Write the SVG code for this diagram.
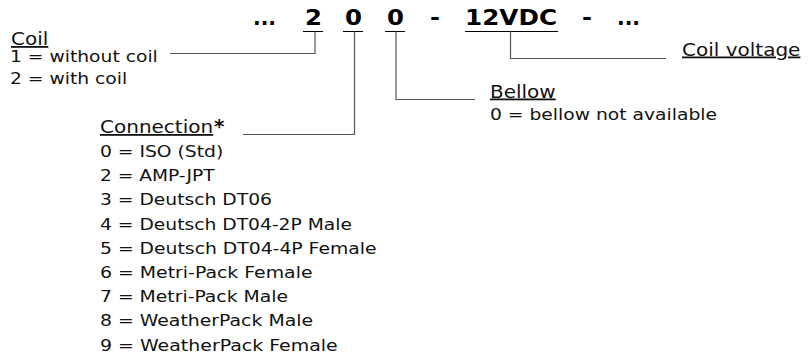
<svg xmlns="http://www.w3.org/2000/svg" width="810" height="358" viewBox="0 0 810 358">
<style>
.code{font-family:"DejaVu Sans",Verdana,sans-serif;font-weight:bold;font-size:21px;fill:#000}
.head{font-family:"DejaVu Sans",Verdana,sans-serif;font-size:18px;fill:#111;text-decoration:underline}
.item{font-family:"DejaVu Sans",Verdana,sans-serif;font-size:16.5px;fill:#111}
.star{font-family:"DejaVu Sans",Verdana,sans-serif;font-size:20px;font-weight:bold;fill:#111}
.ul{stroke:#000;stroke-width:1.2;fill:none}
.conn{stroke:#555;stroke-width:1.2;fill:none}
</style>
<rect width="810" height="358" fill="#fff"/>
<g id="code">
<text class="code" x="253" y="24.5" textLength="23" lengthAdjust="spacingAndGlyphs">...</text>
<text class="code" x="305" y="24.5" textLength="17" lengthAdjust="spacingAndGlyphs">2</text>
<text class="code" x="345" y="24.5" textLength="17" lengthAdjust="spacingAndGlyphs">0</text>
<text class="code" x="387" y="24.5" textLength="17" lengthAdjust="spacingAndGlyphs">0</text>
<text class="code" x="430" y="24.5" textLength="10" lengthAdjust="spacingAndGlyphs">-</text>
<text class="code" x="465" y="24.5" textLength="92" lengthAdjust="spacingAndGlyphs">12VDC</text>
<text class="code" x="582" y="24.5" textLength="10" lengthAdjust="spacingAndGlyphs">-</text>
<text class="code" x="617" y="24.5" textLength="23" lengthAdjust="spacingAndGlyphs">...</text>
<path class="ul" d="M303,31.5H323M343,31.5H363M385,31.5H405M465,31.5H558"/>
</g>
<g id="connectors">
<path class="conn" d="M315,31.5V53.5H170"/>
<path class="conn" d="M354.5,31.5V134.5H243"/>
<path class="conn" d="M396,31.5V99.5H475"/>
<path class="conn" d="M510.5,31.5V58.5H666"/>
</g>
<g id="coil">
<text class="head" x="11" y="45" textLength="37.3" lengthAdjust="spacingAndGlyphs">Coil</text>
<text class="item" x="10" y="62" textLength="147.8" lengthAdjust="spacingAndGlyphs">1 = without coil</text>
<text class="item" x="10" y="84" textLength="117.2" lengthAdjust="spacingAndGlyphs">2 = with coil</text>
</g>
<g id="connection">
<text class="head" x="100" y="133" textLength="113.2" lengthAdjust="spacingAndGlyphs">Connection</text>
<text class="star" x="214" y="133">*</text>
<text class="item" x="100" y="157" textLength="123.2" lengthAdjust="spacingAndGlyphs">0 = ISO (Std)</text>
<text class="item" x="100" y="181.2" textLength="114.6" lengthAdjust="spacingAndGlyphs">2 = AMP-JPT</text>
<text class="item" x="100" y="205.4" textLength="172" lengthAdjust="spacingAndGlyphs">3 = Deutsch DT06</text>
<text class="item" x="100" y="229.6" textLength="252" lengthAdjust="spacingAndGlyphs">4 = Deutsch DT04-2P Male</text>
<text class="item" x="100" y="253.8" textLength="276.5" lengthAdjust="spacingAndGlyphs">5 = Deutsch DT04-4P Female</text>
<text class="item" x="100" y="278" textLength="212.5" lengthAdjust="spacingAndGlyphs">6 = Metri-Pack Female</text>
<text class="item" x="100" y="302.2" textLength="188" lengthAdjust="spacingAndGlyphs">7 = Metri-Pack Male</text>
<text class="item" x="100" y="326.4" textLength="213" lengthAdjust="spacingAndGlyphs">8 = WeatherPack Male</text>
<text class="item" x="100" y="350.6" textLength="237.7" lengthAdjust="spacingAndGlyphs">9 = WeatherPack Female</text>
</g>
<g id="bellow">
<text class="head" x="490" y="97.5" textLength="65.7" lengthAdjust="spacingAndGlyphs">Bellow</text>
<text class="item" x="490" y="119.5" textLength="227" lengthAdjust="spacingAndGlyphs">0 = bellow not available</text>
</g>
<g id="voltage">
<text class="head" x="682" y="55.5" textLength="118.4" lengthAdjust="spacingAndGlyphs">Coil voltage</text>
</g>
</svg>
